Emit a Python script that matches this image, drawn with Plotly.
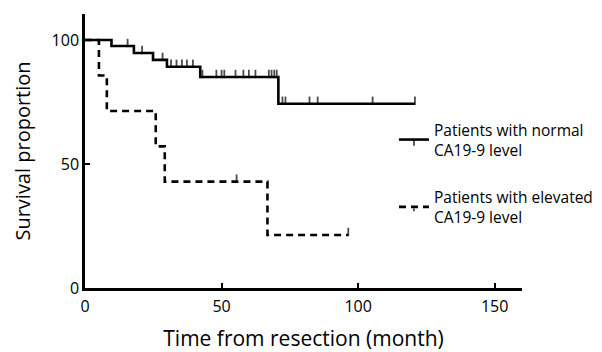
import plotly.graph_objects as go

# Patients with normal CA19-9 level (time in months, survival %, censored flag)
normal_time = [0, 9.7, 15.6, 17.9, 20.9, 24.9, 28.4, 30.0, 31.5, 33.5, 35.5, 37.3, 39.5,
               42.2, 43.0, 48.1, 50.0, 51.0, 55.1, 58.0, 60.0, 62.4, 67.3, 68.3, 69.3, 70.2,
               70.8, 72.3, 73.4, 82.2, 85.2, 105.3, 120.8]
normal_surv = [100, 97.6, 97.6, 94.8, 94.8, 92.0, 92.0, 89.2, 89.2, 89.2, 89.2, 89.2, 89.2,
               85.1, 85.1, 85.1, 85.1, 85.1, 85.1, 85.1, 85.1, 85.1, 85.1, 85.1, 85.1, 85.1,
               74.3, 74.3, 74.3, 74.3, 74.3, 74.3, 74.3]
normal_cens = [0, 0, 1, 0, 1, 0, 1, 0, 1, 1, 1, 1, 1,
               0, 1, 1, 1, 1, 1, 1, 1, 1, 1, 1, 1, 1,
               0, 1, 1, 1, 1, 1, 1]

# Patients with elevated CA19-9 level
elev_time = [0, 5.1, 8.0, 25.9, 29.2, 55.5, 66.8, 96.4]
elev_surv = [100, 85.7, 71.4, 57.1, 42.9, 42.9, 21.4, 21.4]
elev_cens = [0, 0, 0, 0, 0, 1, 0, 1]

x_ticks = [0, 50, 100, 150]
y_ticks = [0, 50, 100]

FONT = "Open Sans"
CENS_SIZE = 6


def censor_marker(flags):
    return dict(symbol="line-ns", size=[CENS_SIZE if c else 0 for c in flags],
                color="black", line=dict(color="black", width=1.8),
                angle=180, standoff=CENS_SIZE / 2)


fig = go.Figure()
fig.add_trace(go.Scatter(
    x=normal_time, y=normal_surv, mode="lines+markers", line_shape="hv",
    line=dict(color="black", width=2.6), marker=censor_marker(normal_cens),
    legendgroup="normal",
    name="Patients with normal<br>CA19-9 level"))
fig.add_trace(go.Scatter(
    x=elev_time, y=elev_surv, mode="lines+markers", line_shape="hv",
    line=dict(color="black", width=2.6, dash="7px,5px"), marker=censor_marker(elev_cens),
    legendgroup="elevated",
    name="Patients with elevated<br>CA19-9 level"))

# the page body adds an 8px margin, so the figure is 8px smaller than the window
fig.update_layout(
    width=594, height=344,
    margin=dict(l=77, r=80, t=6, b=64, autoexpand=False),
    paper_bgcolor="white", plot_bgcolor="white",
    font=dict(family=FONT, color="black"),
    showlegend=True,
    legend=dict(x=0.707, y=0.639, xanchor="left", yanchor="top",
                font=dict(size=15.5, family=FONT), bgcolor="rgba(0,0,0,0)",
                tracegroupgap=24, itemwidth=30),
)
fig.update_xaxes(range=[0, 160], tickvals=x_ticks, showgrid=False, zeroline=False,
                 showline=True, linecolor="black", linewidth=2.5, automargin=False,
                 ticks="inside", ticklen=5, tickwidth=2, tickcolor="black",
                 ticklabelstandoff=2,
                 tickfont=dict(size=16, family=FONT),
                 title=dict(text="Time from resection (month)", font=dict(size=21, family=FONT),
                            standoff=18))
fig.update_yaxes(range=[0, 110.5], tickvals=y_ticks, showgrid=False, zeroline=False,
                 showline=True, linecolor="black", linewidth=2.5, automargin=False,
                 ticks="inside", ticklen=5, tickwidth=2, tickcolor="black",
                 ticklabelstandoff=0,
                 tickfont=dict(size=16, family=FONT),
                 title=dict(text="Survival proportion", font=dict(size=20, family=FONT),
                            standoff=16))

fig.write_html("out.html")
